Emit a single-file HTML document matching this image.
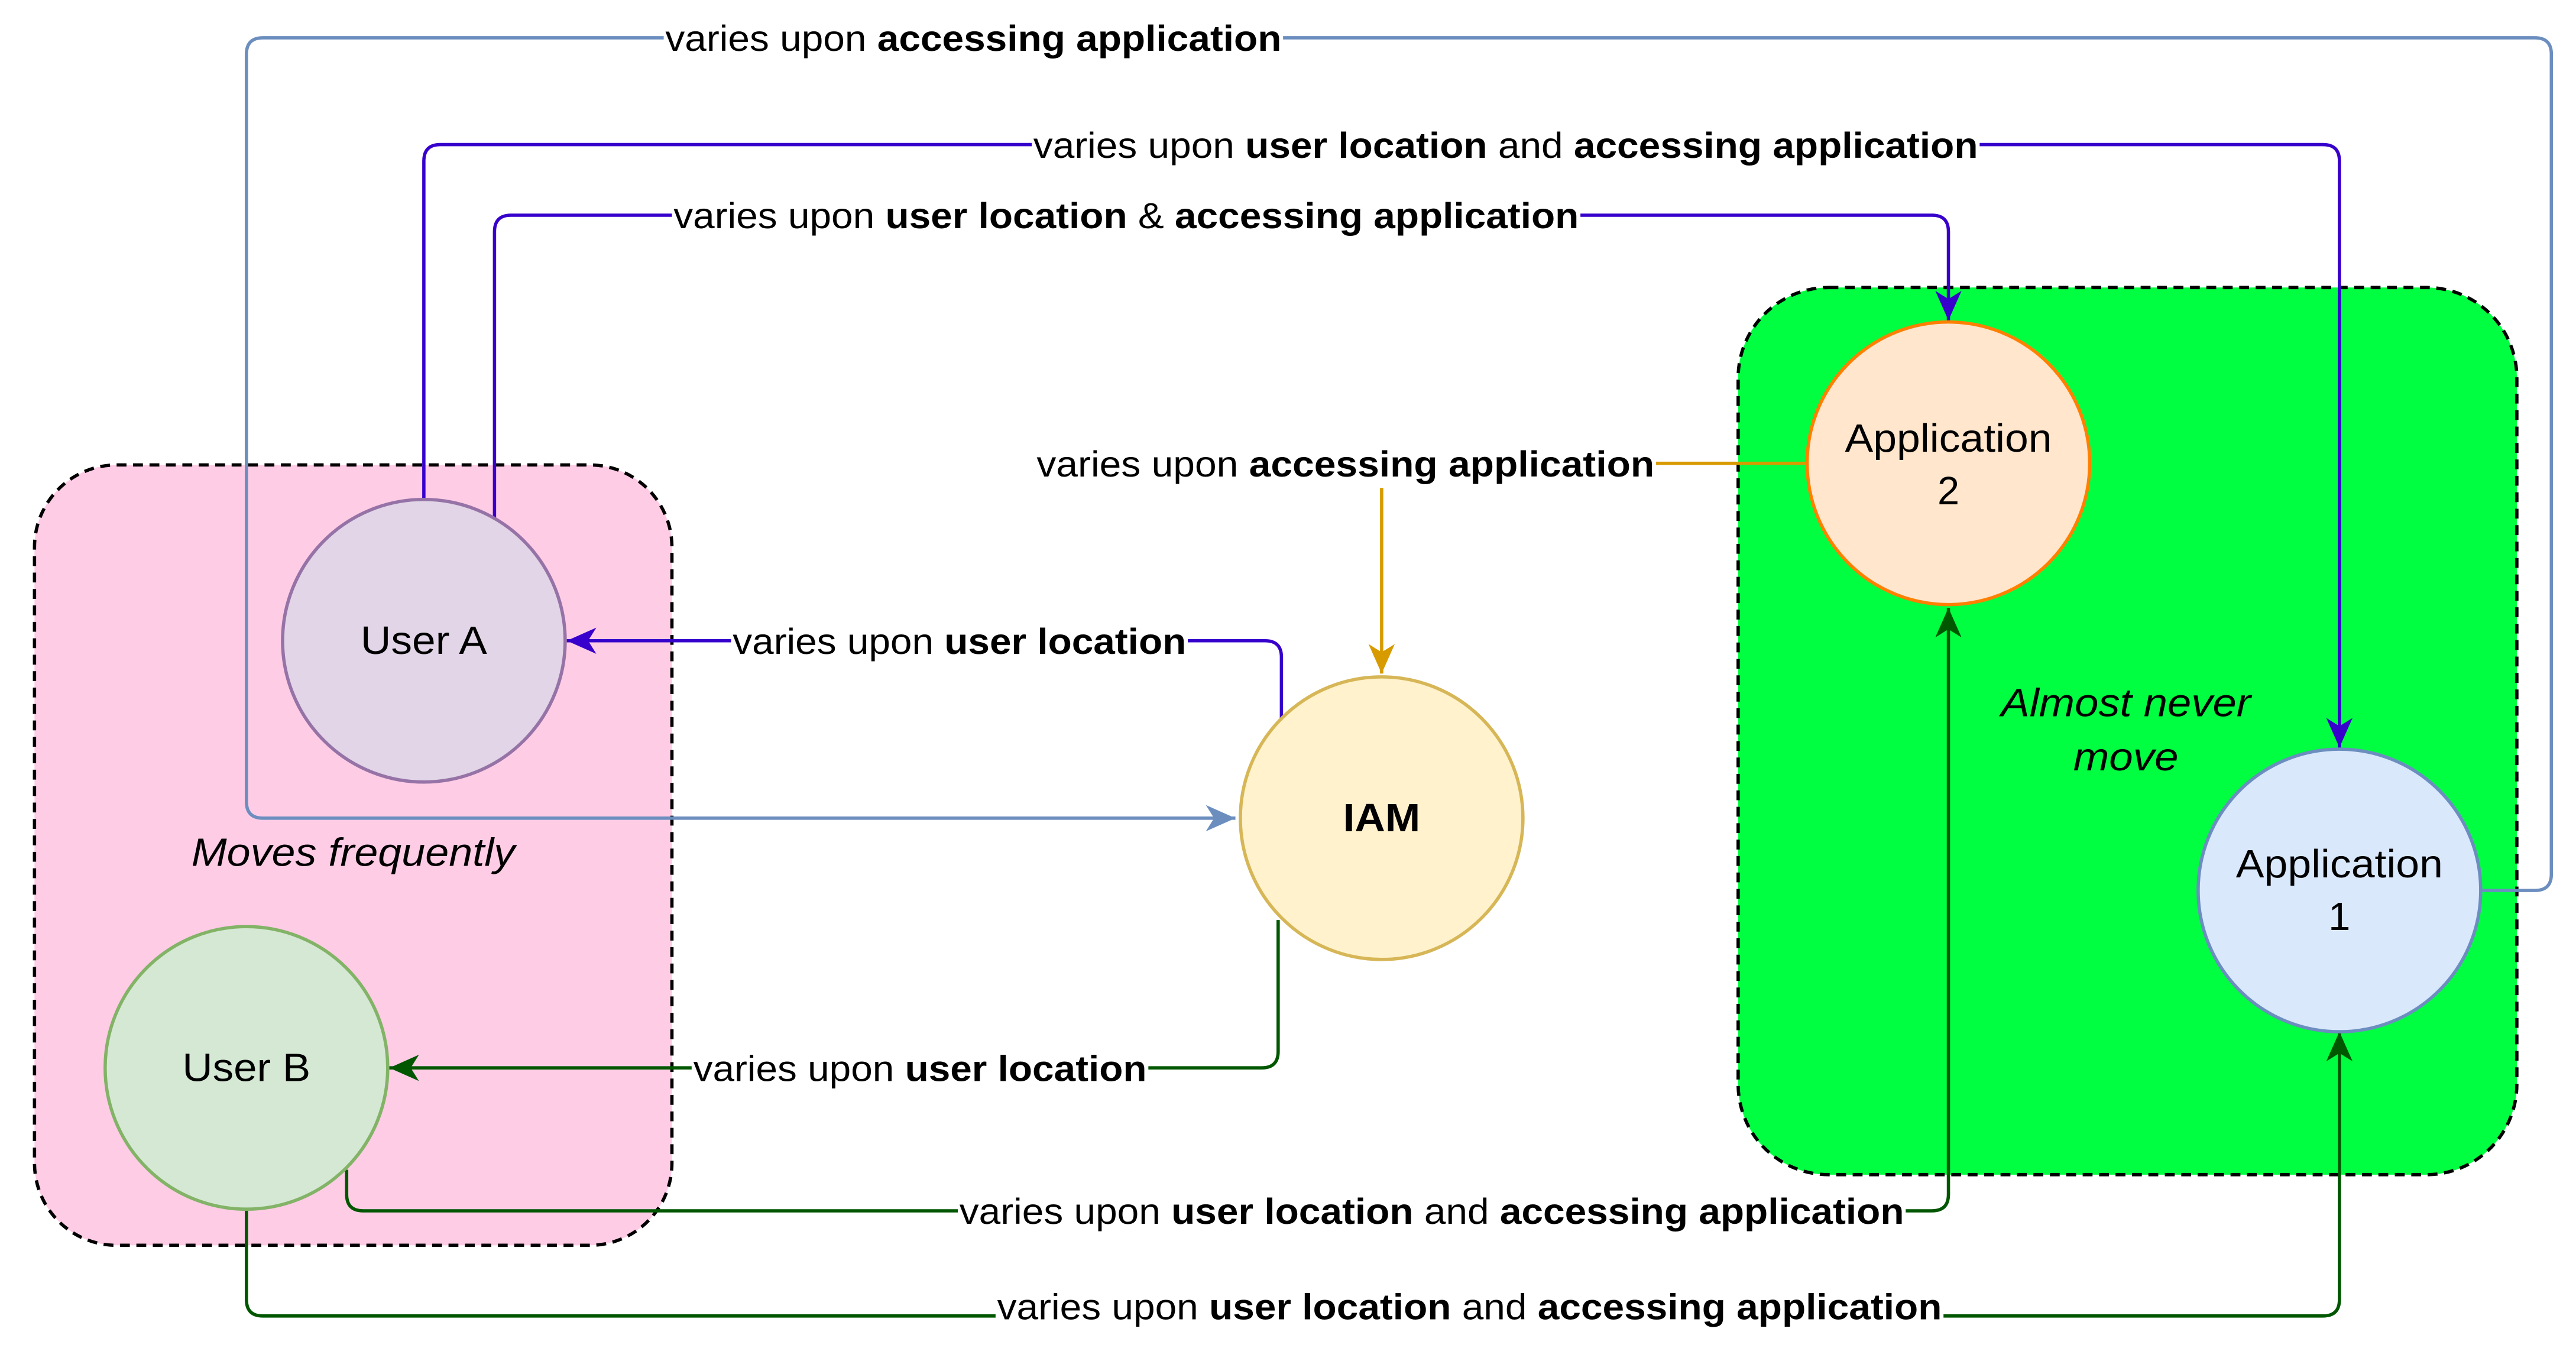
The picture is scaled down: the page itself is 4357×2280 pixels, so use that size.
<!DOCTYPE html>
<html><head><meta charset="utf-8"><style>
html,body{margin:0;padding:0;background:#fff;}
svg{display:block;}
text{font-family:"Liberation Sans",sans-serif;font-size:22px;fill:#000;}
text.n{font-size:24px;}
</style></head><body>
<svg width="4357" height="2280" viewBox="0 0 1568 820.5" preserveAspectRatio="none" xmlns="http://www.w3.org/2000/svg">
<defs>
<marker id="mB" markerWidth="20" markerHeight="20" refX="18" refY="8" orient="auto" markerUnits="userSpaceOnUse"><path d="M0,0 L18,8 L0,16 L5,8 Z" fill="#6c8ebf"/></marker>
<marker id="mP" markerWidth="20" markerHeight="20" refX="18" refY="8" orient="auto" markerUnits="userSpaceOnUse"><path d="M0,0 L18,8 L0,16 L5,8 Z" fill="#3700cc"/></marker>
<marker id="mO" markerWidth="20" markerHeight="20" refX="18" refY="8" orient="auto" markerUnits="userSpaceOnUse"><path d="M0,0 L18,8 L0,16 L5,8 Z" fill="#d79b00"/></marker>
<marker id="mG" markerWidth="20" markerHeight="20" refX="18" refY="8" orient="auto" markerUnits="userSpaceOnUse"><path d="M0,0 L18,8 L0,16 L5,8 Z" fill="#005700"/></marker>
</defs>
<rect width="1568" height="820.5" fill="#fff"/>
<rect x="21" y="283" width="388" height="475" rx="50" fill="#ffcce6" stroke="#000" stroke-width="2" stroke-dasharray="6,4"/>
<rect x="1058" y="175" width="474" height="540" rx="55" fill="#00ff40" stroke="#000" stroke-width="2" stroke-dasharray="6,4"/>

<g fill="none" stroke-width="2">
<path d="M1510,542 H1543 Q1553,542 1553,532 V33 Q1553,23 1543,23 H160 Q150,23 150,33 V488 Q150,498 160,498 H752" stroke="#6c8ebf" marker-end="url(#mB)"/>
<path d="M258,304 V98 Q258,88 268,88 H1414 Q1424,88 1424,98 V455" stroke="#3700cc" marker-end="url(#mP)"/>
<path d="M301,316 V141 Q301,131 311,131 H1176 Q1186,131 1186,141 V195" stroke="#3700cc" marker-end="url(#mP)"/>
<path d="M780,437 V400 Q780,390 770,390 H345" stroke="#3700cc" marker-end="url(#mP)"/>
<path d="M1100,282 H841 V410" stroke="#d79b00" marker-end="url(#mO)"/>
<path d="M778,560 V640 Q778,650 768,650 H237" stroke="#005700" marker-end="url(#mG)"/>
<path d="M211,712 V727 Q211,737 221,737 H1176 Q1186,737 1186,727 V370" stroke="#005700" marker-end="url(#mG)"/>
<path d="M150,736 V791 Q150,801 160,801 H1414 Q1424,801 1424,791 V628" stroke="#005700" marker-end="url(#mG)"/>
</g>

<circle cx="258" cy="390" r="86" fill="#e1d5e7" stroke="#9673a6" stroke-width="2"/>
<circle cx="150" cy="650" r="86" fill="#d5e8d4" stroke="#82b366" stroke-width="2"/>
<circle cx="841" cy="498" r="86" fill="#fff2cc" stroke="#d6b656" stroke-width="2"/>
<circle cx="1186" cy="282" r="86" fill="#ffe6cc" stroke="#ff8000" stroke-width="2"/>
<circle cx="1424" cy="542" r="86" fill="#dae8fc" stroke="#6c8ebf" stroke-width="2"/>

<g text-anchor="middle">
<text class="n" x="258" y="398" textLength="77" lengthAdjust="spacingAndGlyphs">User A</text>
<text class="n" x="150" y="658" textLength="78" lengthAdjust="spacingAndGlyphs">User B</text>
<text class="n" x="841" y="506" font-weight="bold" textLength="47" lengthAdjust="spacingAndGlyphs">IAM</text>
<text class="n" x="1186" y="275" textLength="126" lengthAdjust="spacingAndGlyphs">Application</text>
<text class="n" x="1186" y="307">2</text>
<text class="n" x="1424" y="534" textLength="126" lengthAdjust="spacingAndGlyphs">Application</text>
<text class="n" x="1424" y="566">1</text>
<text class="n" x="215" y="527" font-style="italic" textLength="197" lengthAdjust="spacingAndGlyphs">Moves frequently</text>
<text class="n" x="1294" y="436" font-style="italic" textLength="152" lengthAdjust="spacingAndGlyphs">Almost never</text>
<text class="n" x="1294" y="469" font-style="italic" textLength="64" lengthAdjust="spacingAndGlyphs">move</text>
</g>

<g>
<rect x="404" y="8" width="377" height="30" fill="#fff"/>
<text x="405" y="31" textLength="375" lengthAdjust="spacingAndGlyphs">varies upon <tspan font-weight="bold">accessing application</tspan></text>
<rect x="628" y="73" width="577" height="30" fill="#fff"/>
<text x="629" y="96" textLength="575" lengthAdjust="spacingAndGlyphs">varies upon <tspan font-weight="bold">user location</tspan> and <tspan font-weight="bold">accessing application</tspan></text>
<rect x="409" y="116" width="553" height="30" fill="#fff"/>
<text x="410" y="139" textLength="551" lengthAdjust="spacingAndGlyphs">varies upon <tspan font-weight="bold">user location</tspan> &amp; <tspan font-weight="bold">accessing application</tspan></text>
<rect x="630" y="267" width="378" height="30" fill="#fff"/>
<text x="631" y="290" textLength="376" lengthAdjust="spacingAndGlyphs">varies upon <tspan font-weight="bold">accessing application</tspan></text>
<rect x="445" y="375" width="278" height="30" fill="#fff"/>
<text x="446" y="398" textLength="276" lengthAdjust="spacingAndGlyphs">varies upon <tspan font-weight="bold">user location</tspan></text>
<rect x="421" y="635" width="278" height="30" fill="#fff"/>
<text x="422" y="658" textLength="276" lengthAdjust="spacingAndGlyphs">varies upon <tspan font-weight="bold">user location</tspan></text>
<rect x="583" y="722" width="577" height="30" fill="#fff"/>
<text x="584" y="745" textLength="575" lengthAdjust="spacingAndGlyphs">varies upon <tspan font-weight="bold">user location</tspan> and <tspan font-weight="bold">accessing application</tspan></text>
<rect x="606" y="780" width="577" height="30" fill="#fff"/>
<text x="607" y="803" textLength="575" lengthAdjust="spacingAndGlyphs">varies upon <tspan font-weight="bold">user location</tspan> and <tspan font-weight="bold">accessing application</tspan></text>
</g>
</svg>
</body></html>
